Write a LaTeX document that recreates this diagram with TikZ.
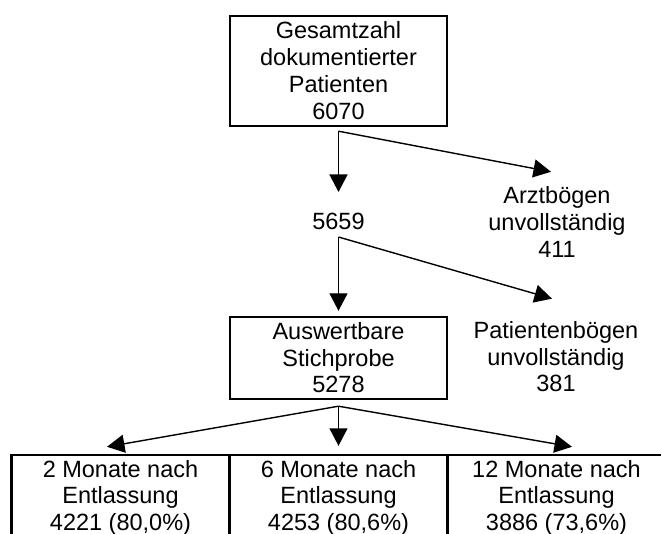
\documentclass[tikz,border=0pt]{standalone}
\usepackage{fontspec}
\setmainfont{Liberation Sans}
\usetikzlibrary{arrows.meta}
\begin{document}
\begin{tikzpicture}[x=1pt,y=-1pt,
  every node/.style={align=center},
  txt/.style={font=\fontsize{23.5}{26.5}\selectfont, inner sep=0pt},
  box/.style={draw, line width=2.4pt, inner sep=0pt, font=\fontsize{23.5}{26.5}\selectfont},
  arr/.style={line width=1.4pt, -{Triangle[length=17.5pt,width=18pt]}}]
\useasboundingbox (0,0) rectangle (661,534);
\clip (0,0) rectangle (661,534);
% nodes
\node[box, minimum width=217pt, minimum height=110pt, font=\fontsize{23.5}{27}\selectfont] (total) at (338.5,71)
  {Gesamtzahl\\dokumentierter\\Patienten\\6070};
\node[txt] (n5659) at (338.5,221.5) {5659};
\node[txt, font=\fontsize{23.5}{27}\selectfont] (arzt) at (557,221.5) {Arztbögen\\unvollständig\\411};
\node[box, minimum width=217pt, minimum height=82pt] (ausw) at (338.5,358) {Auswertbare\\Stichprobe\\5278};
\node[txt] (pat) at (556,357) {Patientenbögen\\unvollständig\\381};
\node[box, minimum width=218pt, minimum height=85pt] (b1) at (120.5,497.5) {2 Monate nach\\Entlassung\\4221 (80,0\%)};
\node[box, minimum width=218pt, minimum height=85pt] (b2) at (338.5,497.5) {6 Monate nach\\Entlassung\\4253 (80,6\%)};
\node[box, minimum width=218pt, minimum height=85pt] (b3) at (556.5,497.5) {12 Monate nach\\Entlassung\\3886 (73,6\%)};
% split points
\coordinate (s1) at ([yshift=-4pt]total.south);
\coordinate (s2) at ([yshift=-7pt]n5659.south);
\coordinate (s3) at ([yshift=-6pt]ausw.south);
% connectors
\draw[arr] (s1) -- ([yshift=21pt]n5659.north);
\draw[arr] (s1) -- ([shift={(-6,-14)}]arzt.north);
\draw[arr] (s2) -- ([yshift=5pt]ausw.north);
\draw[arr] (s2) -- ([shift={(-4,-23)}]pat.north);
\draw[arr] (s3) -- ([shift={(-13.5,-7)}]b1.north);
\draw[arr] (s3) -- ([yshift=8pt]b2.north);
\draw[arr] (s3) -- ([shift={(15.5,-7)}]b3.north);
\end{tikzpicture}
\end{document}
